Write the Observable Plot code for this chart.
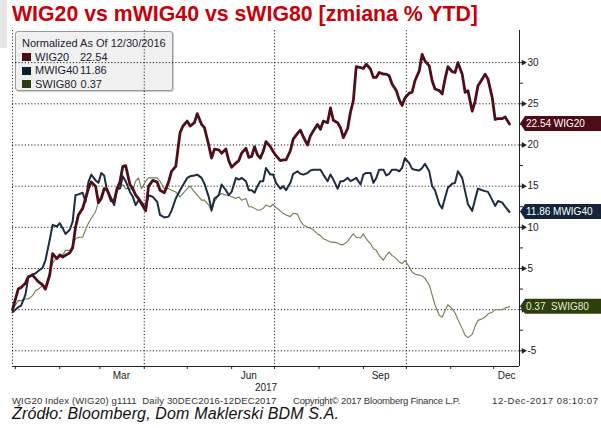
<!DOCTYPE html>
<html><head><meta charset="utf-8">
<script src="https://cdn.jsdelivr.net/npm/d3@7"></script>
<script src="https://cdn.jsdelivr.net/npm/@observablehq/plot@0.6"></script>
<style>
body{margin:0;background:#fff;font-family:"Liberation Sans",Arial,sans-serif;}
#wrap{position:relative;width:601px;height:428px;overflow:hidden;background:#fff;}
#strip{position:absolute;left:0;top:0;width:7px;height:48px;background:#e6e6e6;}
#title{position:absolute;left:12px;top:2px;font-size:21.3px;line-height:25px;font-weight:bold;color:#c8000a;white-space:nowrap;}
#legend{position:absolute;left:15px;top:31px;width:158px;height:60px;background:#f0f0f0;border:1px solid #9a9a9a;border-radius:3px;box-shadow:1px 1px 1px #c8c8c8;font-size:11px;line-height:13.5px;color:#1c2233;padding:5px 0 0 6px;box-sizing:border-box;}
#legend .row{white-space:pre;height:13.5px;}
#legend .sw{display:inline-block;width:9px;height:8px;margin-right:4px;vertical-align:-0.5px;}
#legend .nm{display:inline-block;}
#chart{position:absolute;left:0;top:28px;}
.foot{position:absolute;top:396px;font-size:9.5px;line-height:9px;color:#333;white-space:pre;}
#src{position:absolute;left:12px;top:405px;font-size:16px;line-height:17px;font-style:italic;color:#111;white-space:nowrap;letter-spacing:0.15px;}
</style></head><body>
<div id="wrap">
  <div id="strip"></div>
  <div id="title">WIG20 vs mWIG40 vs sWIG80 [zmiana % YTD]</div>
  <div id="legend"></div>
  <div id="chart"></div>
  <div class="foot" style="left:12px;letter-spacing:0.15px">WIG20 Index (WIG20) g1111  Daily 30DEC2016-12DEC2017</div>
  <div class="foot" style="left:293px;letter-spacing:-0.2px">Copyright© 2017 Bloomberg Finance L.P.</div>
  <div class="foot" style="left:492px;letter-spacing:0.6px">12-Dec-2017 08:10:07</div>
  <div id="src">Źródło: Bloomberg, Dom Maklerski BDM S.A.</div>
</div>
<script>
const dates = [
"2016-12-30","2017-01-03","2017-01-05","2017-01-08","2017-01-10","2017-01-13","2017-01-15","2017-01-17","2017-01-20","2017-01-22","2017-01-25","2017-01-27","2017-01-30",
"2017-02-01","2017-02-03","2017-02-05","2017-02-08","2017-02-10","2017-02-12","2017-02-14","2017-02-17","2017-02-19","2017-02-21","2017-02-23","2017-02-26","2017-02-28",
"2017-03-02","2017-03-04","2017-03-06","2017-03-09","2017-03-11","2017-03-13","2017-03-15","2017-03-17","2017-03-19","2017-03-22","2017-03-24","2017-03-26","2017-03-28","2017-03-30",
"2017-04-02","2017-04-04","2017-04-07","2017-04-10","2017-04-12","2017-04-15","2017-04-18","2017-04-20","2017-04-23","2017-04-26","2017-04-28",
"2017-05-01","2017-05-03","2017-05-06","2017-05-08","2017-05-11","2017-05-13","2017-05-16","2017-05-18","2017-05-20","2017-05-23","2017-05-25","2017-05-28","2017-05-30",
"2017-06-01","2017-06-04","2017-06-06","2017-06-08","2017-06-11","2017-06-13","2017-06-15","2017-06-17",
"2017-06-19","2017-06-21","2017-06-23","2017-06-25","2017-06-28","2017-06-30",
"2017-07-02","2017-07-05","2017-07-07","2017-07-09","2017-07-12","2017-07-14","2017-07-17","2017-07-19","2017-07-21","2017-07-24","2017-07-26","2017-07-28","2017-07-31",
"2017-08-02","2017-08-04","2017-08-07","2017-08-09","2017-08-11","2017-08-14","2017-08-16","2017-08-18","2017-08-21","2017-08-23","2017-08-25","2017-08-27","2017-08-30",
"2017-09-01","2017-09-03","2017-09-06","2017-09-08","2017-09-10","2017-09-12","2017-09-15","2017-09-17","2017-09-19","2017-09-21","2017-09-24","2017-09-26","2017-09-28","2017-09-30",
"2017-10-03","2017-10-05","2017-10-07","2017-10-10","2017-10-12","2017-10-14","2017-10-17","2017-10-19","2017-10-21","2017-10-24","2017-10-26","2017-10-28","2017-10-30",
"2017-11-02","2017-11-04","2017-11-06","2017-11-09","2017-11-11","2017-11-13","2017-11-16","2017-11-18","2017-11-20","2017-11-23","2017-11-25","2017-11-27","2017-11-30",
"2017-12-02","2017-12-04","2017-12-07","2017-12-09","2017-12-12"];

const wig20 = [
0,2.5,2.7,3.2,4.0,4.2,3.8,3.4,3.0,2.5,4.2,6.8,6.2,
6.6,6.4,6.6,6.9,7.5,10.0,11.5,12.3,13.5,14.7,15.5,15.0,13.0,
13.5,14.7,14.6,13.2,13.2,14.7,15.5,17.4,17.5,15.2,14.7,13.9,13.5,12.9,
12.0,15.0,15.7,15.5,14.5,14.2,15.5,16.8,17.4,21.5,22.3,
22.9,22.3,22.7,23.8,22.5,22.1,20.0,18.4,19.5,19.4,19.0,19.5,18.1,
17.3,17.8,18.1,19.0,19.6,18.5,18.6,19.8,
18.8,18.4,19.2,20.4,19.8,19.2,
18.7,18.1,18.2,18.2,19.3,20.7,21.4,21.8,21.0,20.0,21.1,21.7,22.5,
21.9,22.9,22.7,24.5,23.0,22.7,22.1,20.9,22.0,24.0,25.4,29.5,29.4,
29.3,29.8,29.2,28.2,28.2,28.8,28.6,28.6,28.4,27.4,26.6,25.5,24.8,25.7,
26.3,26.4,27.8,29.0,31.0,30.2,29.6,27.8,26.8,26.6,26.2,28.0,29.5,
28.9,28.8,30.0,28.6,26.4,26.6,24.1,25.3,27.2,28.0,28.6,28.0,25.7,
23.1,23.2,23.2,23.4,22.54];

const mwig40 = [
-0.3,0.3,0.5,1.8,3.9,4.3,4.4,4.7,5.1,6.0,8.5,10.3,10.1,
10.5,9.9,9.2,9.7,10.7,13.9,14.0,14.2,13.1,15.5,16.4,15.7,15.4,
16.6,16.3,14.5,13.5,12.7,14.7,14.7,16.2,15.6,14.3,13.7,12.7,13.3,13.1,
12.3,13.9,13.7,13.1,11.5,11.2,11.3,12.0,13.5,14.5,15.1,
16.0,16.2,16.3,16.4,16.0,15.3,13.7,12.1,13.5,13.9,15.2,14.5,13.9,
14.3,16.0,15.8,16.0,15.6,14.5,14.5,14.2,
15.0,15.6,15.6,17.2,16.4,16.4,
15.4,14.7,15.0,14.5,15.4,16.5,16.8,16.5,16.4,16.6,16.9,17.0,17.0,
17.0,16.4,15.6,16.4,15.8,14.7,15.6,15.6,16.0,15.6,15.8,16.0,15.2,
16.4,16.6,16.6,15.4,16.0,17.0,17.0,16.3,16.5,17.0,17.0,16.8,17.2,18.4,
17.8,17.1,17.0,16.9,17.2,17.7,16.8,15.0,14.5,12.8,12.3,13.6,14.8,
15.3,15.4,16.8,16.0,14.4,12.8,12.0,13.4,14.7,14.5,14.4,14.3,13.3,
12.6,13.2,13.0,12.5,11.86];

const swig80 = [
0,1.1,1.1,1.3,1.3,1.7,2.3,2.5,2.9,2.9,4.6,5.6,6.4,
6.8,6.6,7.2,7.2,7.8,8.6,8.8,8.8,9.7,10.5,11.1,11.9,13.1,
13.9,14.7,14.5,13.5,13.1,14.5,14.7,15.2,14.7,14.7,14.5,15.6,16.0,14.7,
15.6,16.0,16.0,16.0,15.6,14.7,14.7,14.5,14.3,13.7,14.1,
14.7,15.0,14.3,13.9,13.3,13.3,12.7,11.9,13.1,13.9,14.1,13.9,13.9,
13.7,13.5,13.7,13.3,13.5,12.5,12.5,12.3,
12.1,12.1,12.3,12.7,12.5,12.8,
12.4,12.0,11.7,11.5,11.3,11.7,11.6,10.8,10.3,10.0,9.9,9.7,9.2,
9.0,8.6,8.4,8.2,8.2,8.1,7.9,7.9,8.3,8.8,9.2,8.8,8.7,
9.2,8.6,8.0,7.4,7.2,6.6,6.0,6.6,7.0,6.6,6.2,5.8,5.6,6.0,
5.2,4.6,4.3,4.2,4.1,3.8,3.0,1.8,0.6,-0.7,-0.9,-0.1,0.6,
0.1,-0.4,-1.2,-2.3,-3.1,-3.4,-3.0,-2.0,-1.3,-1.1,-0.9,-0.5,-0.3,
0.0,0.0,0.0,0.2,0.37];

const seriesNames = ["WIG20", "MWIG40", "SWIG80"];
const lastValues = ["22.54", "11.86", "0.37"];
const tagLabels = ["22.54 WIG20", "11.86 MWIG40", "0.37  SWIG80"];
const lineColors = ["#4f0e19", "#1c2c42", "#6e7f4f"];
const lineWidths = [2.8, 2, 1.1];
const swatchColors = ["#4a0a14", "#0f2035", "#2a3d0c"];
const tagColors = ["#4e0c17", "#11253b", "#2c400d"];
const tagTextColors = ["#ffffff", "#ffffff", "#e6ecd6"];
const legendTitle = "Normalized As Of 12/30/2016";

const yTicks = [-5, 0, 5, 10, 15, 20, 25, 30];
const yHiddenLabels = [0]; // covered by the SWIG80 value tag in the original
const yMinorTicks = [-2.5, 2.5, 7.5, 12.5, 17.5, 22.5, 27.5];
const yDomain = [-6.9, 33.9];
const xDomain = ["2016-12-30", "2017-12-19"];
const monthStarts = ["2017-01-01","2017-02-01","2017-03-01","2017-04-01","2017-05-01","2017-06-01","2017-07-01","2017-08-01","2017-09-01","2017-10-01","2017-11-01","2017-12-01"];
const quarterLines = ["2017-04-01", "2017-07-01", "2017-10-01"];
const monthLabelDates = ["2017-03-16", "2017-06-13", "2017-09-13", "2017-12-10"];
const yearLabelDates = ["2017-06-25"];

const parse = d3.utcParse("%Y-%m-%d");
const allValues = [wig20, mwig40, swig80];
const series = seriesNames.map((name, k) => dates.map((d, i) => ({date: parse(d), value: allValues[k][i], name})));

// legend
const legend = d3.select("#legend");
legend.append("div").attr("class", "row").text(legendTitle);
const nameWidths = [45, 45, null];
seriesNames.forEach((n, k) => {
  const row = legend.append("div").attr("class", "row");
  row.append("span").attr("class", "sw").style("background", swatchColors[k]);
  const nm = row.append("span").attr("class", "nm").text(n);
  if (nameWidths[k]) nm.style("width", nameWidths[k] + "px"); else nm.style("margin-right", "4px");
  row.append("span").text(lastValues[k]);
});

const dotted = {stroke: "#000", strokeOpacity: 0.85, strokeDasharray: "1.2,2", strokeWidth: 1};

const chart = Plot.plot({
  width: 601,
  height: 368,
  marginLeft: 12,
  marginRight: 82,
  marginTop: 2,
  marginBottom: 30,
  style: {fontFamily: "'Liberation Sans', Arial, sans-serif", fontSize: "10px", color: "#222", background: "transparent", overflow: "visible"},
  x: {type: "utc", domain: xDomain.map(parse), label: null},
  y: {domain: yDomain, label: null},
  marks: [
    Plot.gridY(yTicks, dotted),
    Plot.gridX(quarterLines.map(parse), dotted),
    Plot.ruleX([parse(xDomain[0])], dotted),
    ...series.slice().reverse().map((s, j) => {
      const k = series.length - 1 - j;
      return Plot.lineY(s, {x: "date", y: "value", stroke: lineColors[k], strokeWidth: lineWidths[k], strokeLinejoin: "round"});
    }),
    Plot.ruleX([parse(xDomain[1])], {stroke: "#222", strokeWidth: 1}),
    Plot.ruleY([yDomain[0]], {stroke: "#222", strokeWidth: 1}),
    Plot.axisY(yMinorTicks, {anchor: "right", tickSize: 3, tickFormat: () => ""}),
    Plot.axisY(yTicks, {anchor: "right", tickSize: 4, tickPadding: 4, tickFormat: d => yHiddenLabels.includes(d) ? "" : String(d), fontSize: 10}),
    Plot.dot(yTicks, {y: d => d, frameAnchor: "right", symbol: "triangle", rotate: 90, r: 2.2, fill: "#222", dx: 4}),
    Plot.axisX(monthStarts.map(parse), {anchor: "bottom", tickSize: 3, tickFormat: () => ""}),
    Plot.axisX(monthLabelDates.map(parse), {anchor: "bottom", tickSize: 0, tickPadding: 5, tickFormat: d3.utcFormat("%b"), fontSize: 10}),
    Plot.axisX(yearLabelDates.map(parse), {anchor: "bottom", tickSize: 0, tickPadding: 17, tickFormat: d3.utcFormat("%Y"), fontSize: 10})
  ]
});
document.getElementById("chart").appendChild(chart);

// value tags on the right axis
const ys = chart.scale("y"), xs = chart.scale("x");
const xr = xs.apply(parse(xDomain[1]));
const svg = d3.select(chart);
const g = svg.append("g").attr("text-anchor", "start");
lastValues.forEach((v, k) => {
  const yc = ys.apply(+v);
  const h = 7.5;
  g.append("polygon")
    .attr("points", [[xr + 1, yc], [xr + 6, yc - h], [601, yc - h], [601, yc + h], [xr + 6, yc + h]].map(p => p.join(",")).join(" "))
    .attr("fill", tagColors[k]);
  g.append("text")
    .attr("x", xr + 7).attr("y", yc).attr("dy", "0.35em")
    .attr("text-anchor", "start")
    .attr("fill", tagTextColors[k])
    .attr("font-size", 10)
    .attr("xml:space", "preserve")
    .style("white-space", "pre")
    .text(tagLabels[k]);
});
</script>
</body></html>
